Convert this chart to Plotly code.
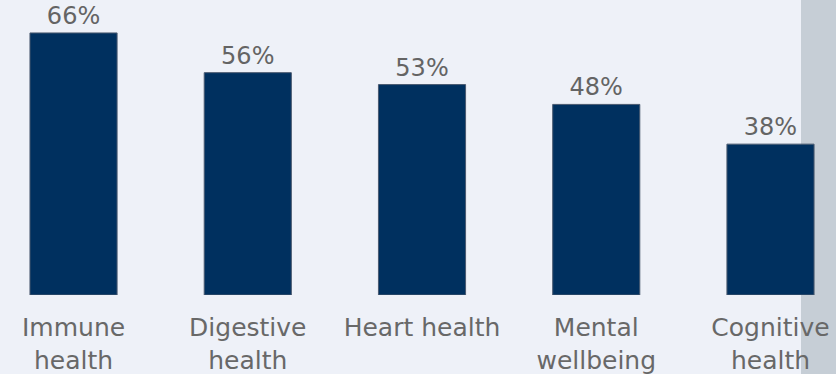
import plotly.graph_objects as go

categories = ["Immune<br>health", "Digestive<br>health", "Heart health", "Mental<br>wellbeing", "Cognitive<br>health"]
values = [66, 56, 53, 48, 38]
value_labels = ["66%", "56%", "53%", "48%", "38%"]

FONT = "Verdana, DejaVu Sans, sans-serif"

fig = go.Figure(go.Bar(
    x=list(range(len(categories))),
    y=values,
    text=value_labels,
    textposition="outside",
    cliponaxis=False,
    textfont=dict(family=FONT, size=24, color="#646464"),
    marker=dict(color="#00305f", line=dict(color="#4a5a70", width=1)),
    width=0.5,
))

fig.update_layout(
    width=836, height=374,
    margin=dict(l=0, r=0, t=0, b=79),
    paper_bgcolor="#eef1f8",
    plot_bgcolor="rgba(0,0,0,0)",
    showlegend=False,
    xaxis=dict(
        range=[-0.422, 4.376],
        tickmode="array",
        tickvals=list(range(len(categories))),
        ticktext=categories,
        showgrid=False, zeroline=False, showline=False,
        tickfont=dict(family=FONT, size=25, color="#686868"),
        ticks="", ticklabelstandoff=15,
    ),
    yaxis=dict(range=[0, 74.3], visible=False),
    shapes=[
        dict(type="rect", xref="paper", yref="paper", x0=(801/836), x1=1, y0=-79/295, y1=1,
             fillcolor="#c6ced6", line=dict(width=0), layer="below"),
    ],
)

fig.write_html("out.html", config={"displayModeBar": False},
               post_script="document.body.style.margin='0';")
